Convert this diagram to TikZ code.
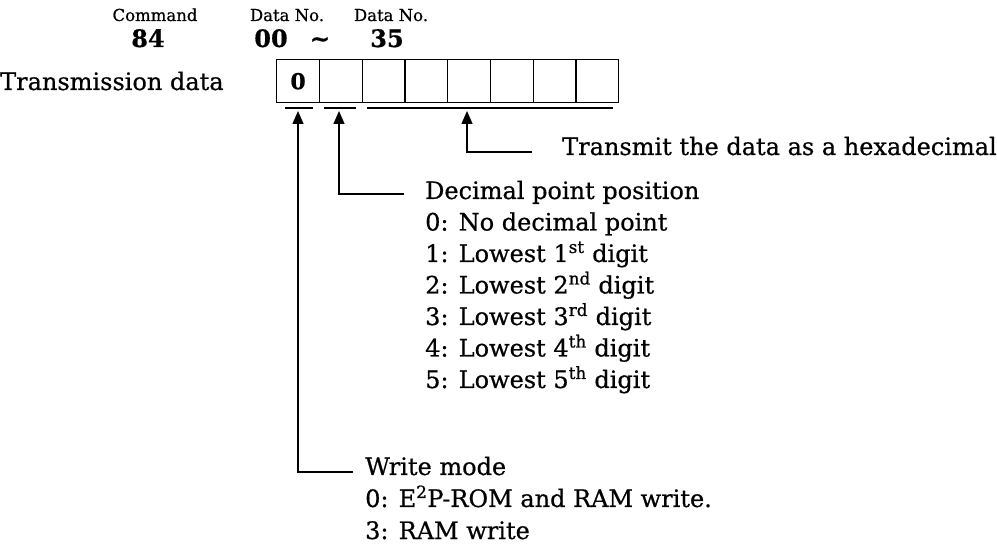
\documentclass[tikz,border=0pt]{standalone}
\usepackage{fontspec}
\setmainfont{DejaVu Serif}[FakeBold=0.6]
\usetikzlibrary{arrows.meta}
\begin{document}
\begin{tikzpicture}[x=1pt,y=-1pt,
  txt/.style={inner sep=0pt, anchor=base west, font=\fontsize{24}{28}\selectfont},
  hdr/.style={inner sep=0pt, anchor=base, font=\fontsize{16.5}{20}\selectfont},
  big/.style={inner sep=0pt, anchor=base, font=\fontsize{24}{28}\selectfont\bfseries},
  cellbox/.style={draw, line width=1.4pt, minimum width=42.75pt, minimum height=43pt, inner sep=0pt, anchor=north west},
  uline/.style={line width=1.4pt},
  arr/.style={line width=1.4pt, -{Triangle[width=11pt,length=13pt]}}]
\useasboundingbox (0,0) rectangle (997,545);
% header
\node[hdr] (cmd) at (155,21) {Command};
\node[hdr] (dn1) at (287,21) {Data No.};
\node[hdr] (dn2) at (391,21) {Data No.};
\node[big] (n84) at (148,47) {84};
\node[big] (n00) at (271,47) {00};
\node[big] (tl) at (320,47) {\char`\~};
\node[big] (n35) at (387,47) {35};
\node[txt] (trans) at (0,90) {Transmission data};
% cells
\foreach \i in {1,...,8}{
  \node[cellbox] (c\i) at ({276+(\i-1)*42.75},59) {};
}
\node[inner sep=0pt, font=\fontsize{22}{26}\selectfont\bfseries] (zero) at (c1) {0};
% underlines
\coordinate (u1a) at (285,108); \coordinate (u1b) at (313,108);
\coordinate (u2a) at (324,108); \coordinate (u2b) at (356,108);
\coordinate (u3a) at (367,108); \coordinate (u3b) at (613,108);
\draw[uline] (u1a) -- (u1b);
\draw[uline] (u2a) -- (u2b);
\draw[uline] (u3a) -- (u3b);
% texts
\node[txt] (hex) at (562,155) {Transmit the data as a hexadecimal};
\node[txt] (dec) at (425,199) {Decimal point position};
\node[txt] (d0) at (425,230.5) {0: No decimal point};
\node[txt] (d1) at (425,262) {1: Lowest 1\textsuperscript{st} digit};
\node[txt] (d2) at (425,293.5) {2: Lowest 2\textsuperscript{nd} digit};
\node[txt] (d3) at (425,325) {3: Lowest 3\textsuperscript{rd} digit};
\node[txt] (d4) at (425,356.5) {4: Lowest 4\textsuperscript{th} digit};
\node[txt] (d5) at (425,388) {5: Lowest 5\textsuperscript{th} digit};
\node[txt] (wm) at (365,475) {Write mode};
\node[txt] (w0) at (365,507) {0: E\textsuperscript{2}P-ROM and RAM write.};
\node[txt] (w3) at (365,539) {3: RAM write};
% arrows
\coordinate (h3) at (532,152); \coordinate (k3) at (467,152); \coordinate (t3) at (467,111);
\coordinate (h2) at (404,194); \coordinate (k2) at (339,194); \coordinate (t2) at (339,111);
\coordinate (h1) at (353,472); \coordinate (k1) at (298,472); \coordinate (t1) at (298,111);
\draw[arr] (h3) -- (k3) -- (t3);
\draw[arr] (h2) -- (k2) -- (t2);
\draw[arr] (h1) -- (k1) -- (t1);
\end{tikzpicture}
\end{document}
